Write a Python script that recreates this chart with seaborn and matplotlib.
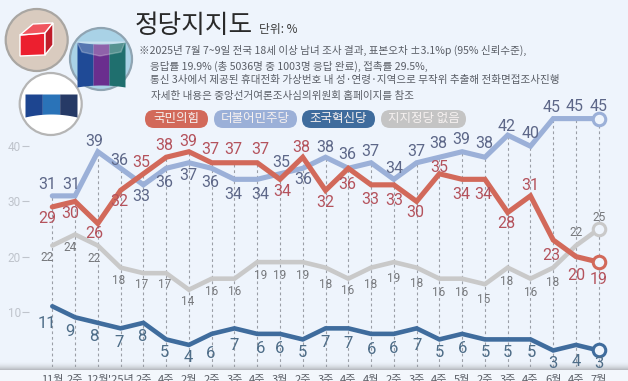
import matplotlib

matplotlib.use("Agg")
import matplotlib.pyplot as plt
import numpy as np
import pandas as pd
import seaborn as sns
from matplotlib.colors import LinearSegmentedColormap
from matplotlib.patches import Circle, FancyBboxPatch, Polygon

sns.set_theme(style="white")
KR = ["Noto Sans CJK KR", "DejaVu Sans"]
NUM = ["Roboto", "DejaVu Sans"]
plt.rcParams["font.family"] = KR

WEEKS = ["11월", "2주", "12월", "'25년", "2주", "4주", "2월", "2주", "3주", "4주", "3월", "2주",
         "3주", "4주", "4월", "2주", "3주", "4주", "5월", "2주", "3주", "4주", "6월", "4주", "7월"]
PPP = [29, 30, 26, 32, 35, 38, 39, 37, 37, 37, 34, 38, 32, 36, 33, 33, 30, 35, 34, 34, 28, 31, 23, 20, 19]
DEM = [31, 31, 39, 36, 33, 36, 37, 36, 34, 34, 35, 36, 38, 36, 37, 34, 37, 38, 39, 38, 42, 40, 45, 45, 45]
REBUILD = [11, 9, 8, 7, 8, 5, 4, 6, 7, 6, 6, 5, 7, 7, 6, 6, 7, 5, 6, 5, 5, 5, 3, 4, 3]
NONE = [22, 24, 22, 18, 17, 17, 14, 16, 16, 19, 19, 19, 18, 16, 18, 19, 18, 16, 16, 15, 18, 16, 18, 22, 25]
PARTIES = ["국민의힘", "더불어민주당", "조국혁신당", "지지정당 없음"]
YTICKS = [10, 20, 30, 40]

# label nudges in pixels, right / down from the point
PPP_DX = [-5, -4.5, -4, -1.5, -2, -1.5, -1, -1, -1, 2.7, 2, -2, 0, -1, -1, 0, -1, 0, -1, -1.5, -1, 0, -1.5, 0, 0]
PPP_DY = [11.5, 12, 10, 11, -11, -12, -10.5, -13, -13, -13, 12, -10, 12.5, 16, 14.5, 15.5, 11, -6.3, 15, 15, 11, -10, 15, 19, 17]
DEM_DX = [-5, -4, -4, -1.5, -2, -1.5, -1, -1, -1, 2.7, 1, 0, 0, -1, -1, 0, 0, -1, -1, -1, -1, 0, -2, -1, 0]
DEM_DY = [-11.5, -11.5, -10.5, -8, 12, 14.7, 12.5, 14, 15, 15, -11, 11, -10, -14, -11.5, -10.7, -11, -13.7, -12, -13.7, -9, -12.5, -10.7, -12.4, -12.4]
REB_DX = [-5, -5, -4, -1.5, -2, -1.5, -1, -1, 0, 3, 0, 0, 0, 0, 0, 0, 0, 0, 0, 0, 0, 1, 0, 0, 0]
REB_DY = [17, 14.5, 14, 14.4, 14, 13, 12.3, 19.4, 17.4, 15, 15, 13, 14.4, 15, 15.4, 14.4, 17.4, 13, 15, 13, 13, 13, 13, 17, 13]
NONE_DX = [-5.5, -5, -4, -1.5, -2, -2, -1, 0, 0, 3, 0, 0, 0, -1, 0, 0, 0, -1, -1, -1, -1, 0, -1, 0, 0]
NONE_DY = [12, 13, 13, 12.5, 11, 11, 11.5, 12.5, 12.5, 13.5, 13.5, 13.5, 16.7, 11.5, 17, 16, 16, 14, 14, 15, 13.5, 14, 14.7, -13, -11.7]

BG = "#EEF4FC"
LINE = {"국민의힘": "#D2695A", "더불어민주당": "#9BB0D8", "조국혁신당": "#3F6C9D", "지지정당 없음": "#C9C9C9"}
TEXT = {"국민의힘": "#B4525C", "더불어민주당": "#5D6788", "조국혁신당": "#4E6D88", "지지정당 없음": "#76787C"}
SIZE = {"국민의힘": 11.5, "더불어민주당": 11.5, "조국혁신당": 12, "지지정당 없음": 8.5}
WIDTH = {"국민의힘": 3.7, "더불어민주당": 3.7, "조국혁신당": 3.3, "지지정당 없음": 3.3}


def flag(ax, x0, x1, top, bottom, colors, top_bend, bottom_bend):
    edges = np.linspace(x0, x1, len(colors) + 1)
    for left, right, c in zip(edges[:-1], edges[1:], colors):
        xs = np.linspace(left, right, 12)
        t = (xs - (x0 + x1) / 2) / ((x1 - x0) / 2)
        ax.fill_between(xs, top + top_bend * (1 - t ** 2), bottom + bottom_bend * (1 - t ** 2), color=c, lw=0, zorder=3)


def main():
    df = pd.DataFrame({"x": range(len(WEEKS)), "국민의힘": PPP, "더불어민주당": DEM, "조국혁신당": REBUILD, "지지정당 없음": NONE})
    long = df.melt(id_vars="x", var_name="party", value_name="pct")

    fig = plt.figure(figsize=(6.28, 3.81), dpi=100, facecolor=BG)

    # pixel canvas for the header, icons and the shaded floor
    bg = fig.add_axes([0, 0, 1, 1], zorder=0)
    bg.axis("off")
    band = np.linspace(0, 1, 60)[:, None] ** 2.2
    bg.imshow(band, extent=(0, 628, 370, 360), cmap=LinearSegmentedColormap.from_list("b", [BG, "#B4B7BC"]), aspect="auto", zorder=1)
    bg.set_xlim(0, 628)
    bg.set_ylim(381, 0)
    bg.fill_between([0, 628], 370, 381, color="#F3F7FC", lw=0, zorder=1)

    bg.add_patch(Circle((36.7, 40), 31, fc="#D9CBBF", ec="#A9A6A2", lw=1.6, zorder=2))
    bg.add_patch(Polygon([(20, 35), (45, 33), (45, 55), (20, 56)], fc="#EC1F2F", zorder=3))
    bg.add_patch(Polygon([(20, 35), (33, 24), (53, 23), (45, 33)], fc="#F0565F", zorder=3))
    bg.add_patch(Polygon([(45, 33), (53, 23), (53, 45), (45, 55)], fc="#C01D2A", zorder=3))

    bg.add_patch(Circle((101, 59), 31, fc="#A9D2E6", ec="#8FA4B2", lw=1.6, zorder=2))
    flag(bg, 77, 125, 42, 87, ["#1F4A96", "#6A2E8E", "#1F6F6E"], 2, -2)
    bg.add_patch(Polygon([(77, 42), (125, 42), (121, 52), (100, 56), (82, 52)], fc="white", alpha=0.25, zorder=4))

    bg.add_patch(Circle((50.7, 104), 31, fc="white", ec="#B5B5B5", lw=1.6, zorder=2))
    flag(bg, 25, 77, 94, 117, ["#1D4590", "#2A73B8", "#263A66"], 0, -3)

    bg.text(135, 26, "정당지지도", fontsize=18.5, color="#2A2A2A", va="center", ha="left", fontweight="medium", zorder=5)
    bg.text(259, 30, "단위: %", fontsize=8.5, color="#3A3A3A", va="center", ha="left", zorder=5)
    notes = [
        (139, 50, "※2025년 7월 7~9일 전국 18세 이상 남녀 조사 결과, 표본오차 ±3.1%p (95% 신뢰수준),"),
        (150, 66, "응답률 19.9% (총 5036명 중 1003명 응답 완료), 접촉률 29.5%,"),
        (150, 80, "통신 3사에서 제공된 휴대전화 가상번호 내 성·연령·지역으로 무작위 추출해 전화면접조사진행"),
        (151, 96, "자세한 내용은 중앙선거여론조사심의위원회 홈페이지를 참조"),
    ]
    for nx, ny, s in notes:
        bg.text(nx, ny, s, fontsize=7.6, color="#5A5E66", va="center", ha="left", zorder=5)

    pills = [(145, 208), (214, 297), (302, 375), (381, 466)]
    for (p0, p1), party in zip(pills, PARTIES):
        bg.add_patch(FancyBboxPatch((p0, 110), p1 - p0, 18, boxstyle="round,pad=0,rounding_size=9",
                                    fc=LINE[party] if party != "지지정당 없음" else "#C4C4C4", ec="none", zorder=2))
        bg.text((p0 + p1) / 2, 118.5, party, fontsize=9, color="#F6F1F0", ha="center", va="center", zorder=5)

    # data axes: x index 0 sits at 52.3px, y=0 at 367px
    ax = fig.add_axes([29 / 628, 14 / 381, 599 / 628, 367 / 381], zorder=1)
    ax.patch.set_visible(False)
    ax.set_xlim((29 - 52.3) / 22.77, (628 - 52.3) / 22.77)
    ax.set_ylim(0, 367 / 5.52)
    sns.despine(ax=ax, left=True, bottom=True)

    ax.vlines(df["x"], 0, df[PARTIES].max(axis=1), colors="#9A9EA6", linestyles=(0, (2.5, 2.5)), lw=0.8, zorder=1)

    for party in ["지지정당 없음", "조국혁신당", "더불어민주당", "국민의힘"]:
        sns.lineplot(data=long[long["party"] == party], x="x", y="pct", color=LINE[party], lw=WIDTH[party],
                     ax=ax, legend=False, errorbar=None, zorder=2, clip_on=False, solid_joinstyle="miter")
        ax.plot(df["x"].iloc[-1], df[party].iloc[-1], "o", ms=9, mfc=BG, mec=LINE[party], mew=2.2, zorder=3, clip_on=False)

    nudges = {"국민의힘": (PPP_DX, PPP_DY), "더불어민주당": (DEM_DX, DEM_DY), "조국혁신당": (REB_DX, REB_DY), "지지정당 없음": (NONE_DX, NONE_DY)}
    for party, (dxs, dys) in nudges.items():
        for x, v, dx, dy in zip(df["x"], df[party], dxs, dys):
            ax.annotate(str(v), (x, v), xytext=(dx * 0.72, -dy * 0.72), textcoords="offset points", family=NUM,
                        fontsize=SIZE[party], color=TEXT[party], ha="center", va="center", zorder=4)

    ax.set_xticks(df["x"], WEEKS, fontsize=8, color="#5A5E66")
    ax.set_yticks(YTICKS)
    ax.set_yticklabels(YTICKS, fontsize=8.5, color="#BFC4CC", family=NUM)
    ax.tick_params(axis="x", length=0, pad=6)
    ax.tick_params(axis="y", left=True, length=5, width=0.8, color="#BFC4CC", pad=1, direction="out")
    ax.set_xlabel("")
    ax.set_ylabel("")

    fig.savefig("out.png", dpi=100, facecolor=BG)


if __name__ == "__main__":
    main()
